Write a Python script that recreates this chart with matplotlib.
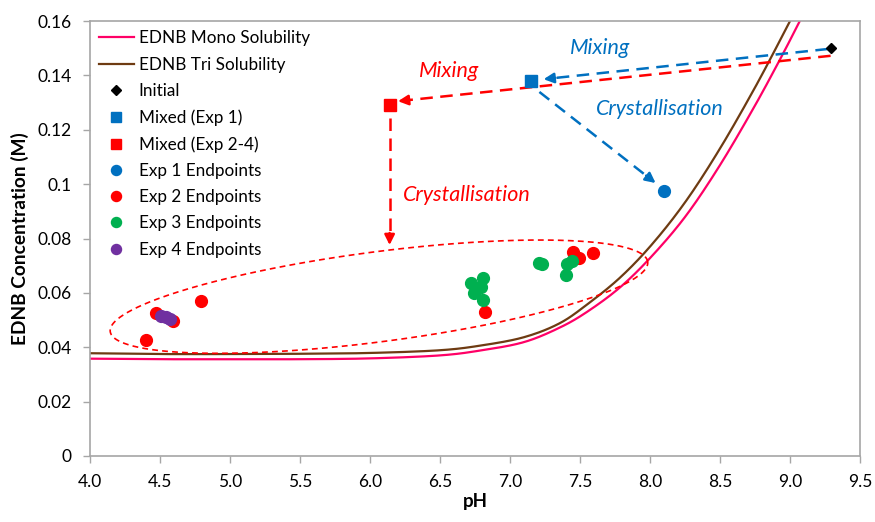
"""EDNB solubility vs pH with mixing / crystallisation pathways."""
import matplotlib

matplotlib.use("Agg")
import matplotlib.pyplot as plt
import numpy as np

plt.rcParams["font.family"] = ["Lato", "DejaVu Sans"]

# solubility curves
mono_ph = [4.0, 4.5, 5.0, 5.5, 6.0, 6.5, 6.8, 7.1, 7.35, 7.55, 7.79, 8.02, 8.26, 8.50, 8.74, 8.93, 9.07, 9.12]
mono_conc = [0.0358, 0.0356, 0.0356, 0.0356, 0.0359, 0.0370, 0.0389, 0.0419, 0.0471, 0.0530, 0.0622,
             0.0739, 0.0886, 0.1070, 0.1280, 0.1460, 0.1600, 0.1653]
tri_ph = [4.0, 4.5, 5.0, 5.5, 6.0, 6.5, 6.8, 7.1, 7.35, 7.55, 7.79, 8.02, 8.26, 8.50, 8.74, 8.93, 9.07]
tri_conc = [0.0378, 0.0375, 0.0375, 0.0376, 0.0379, 0.0389, 0.0407, 0.0437, 0.0487, 0.0557, 0.0658,
            0.0782, 0.0940, 0.1131, 0.1346, 0.1530, 0.1670]

initial_ph, initial_conc = [9.29], [0.150]
mixed1_ph, mixed1_conc = [7.15], [0.138]
mixed24_ph, mixed24_conc = [6.14], [0.129]

exp1_ph, exp1_conc = [8.10], [0.0975]
exp2_ph = [4.40, 4.47, 4.59, 4.79, 6.82, 7.45, 7.49, 7.59]
exp2_conc = [0.0427, 0.0526, 0.0497, 0.0570, 0.0530, 0.0750, 0.0728, 0.0745]
exp3_ph = [6.72, 6.74, 6.81, 6.79, 6.81, 6.76, 7.21, 7.23, 7.41, 7.44, 7.40]
exp3_conc = [0.0636, 0.0600, 0.0655, 0.0622, 0.0574, 0.0610, 0.0710, 0.0706, 0.0706, 0.0716, 0.0666]
exp4_ph = [4.51, 4.54, 4.57]
exp4_conc = [0.0516, 0.0510, 0.0503]

x_ticks = [4.0, 4.5, 5.0, 5.5, 6.0, 6.5, 7.0, 7.5, 8.0, 8.5, 9.0, 9.5]
y_ticks = [0, 0.02, 0.04, 0.06, 0.08, 0.10, 0.12, 0.14, 0.16]
y_tick_labels = ["0", "0.02", "0.04", "0.06", "0.08", "0.1", "0.12", "0.14", "0.16"]

PINK = "#FF0066"
BROWN = "#6E3B12"
BLUE = "#0070C0"
RED = "#FF0000"
GREEN = "#00B050"
PURPLE = "#7030A0"
GREY = "#A6A6A6"


def smooth_line(xs, ys, steps=20):
    """Catmull-Rom pass through the read points, like a spreadsheet 'smoothed line'."""
    p = np.column_stack([xs, ys]).astype(float)
    p = np.vstack([2 * p[0] - p[1], p, 2 * p[-1] - p[-2]])
    out = []
    t = np.linspace(0, 1, steps, endpoint=False)[:, None]
    for i in range(1, len(p) - 2):
        p0, p1, p2, p3 = p[i - 1], p[i], p[i + 1], p[i + 2]
        seg = 0.5 * (2 * p1 + (-p0 + p2) * t + (2 * p0 - 5 * p1 + 4 * p2 - p3) * t ** 2
                     + (-p0 + 3 * p1 - 3 * p2 + p3) * t ** 3)
        out.append(seg)
    out.append(p[-2][None, :])
    out = np.vstack(out)
    return out[:, 0], out[:, 1]


def dashed_arrow(ax, start, end, color, lw=1.8):
    """Dashed shaft plus a solid arrow head at the end."""
    sx, sy = ax.transData.transform(start)
    ex, ey = ax.transData.transform(end)
    length = np.hypot(ex - sx, ey - sy)
    back = 12.0 / length
    bx = sx + (ex - sx) * (1 - back)
    by = sy + (ey - sy) * (1 - back)
    base = ax.transData.inverted().transform((bx, by))
    ax.plot([start[0], base[0]], [start[1], base[1]], color=color, lw=lw,
            dashes=[5, 3], zorder=3)
    ax.annotate("", xy=end, xytext=tuple(base),
                arrowprops=dict(arrowstyle="-|>,head_length=0.6,head_width=0.3",
                                color=color, lw=lw, shrinkA=0, shrinkB=0),
                zorder=3)


def dashed_ellipse(ax, center, a_px, b_px, angle_deg, color):
    cx, cy = ax.transData.transform(center)
    t = np.linspace(0, 2 * np.pi, 400)
    ang = np.radians(angle_deg)
    px = cx + a_px * np.cos(t) * np.cos(ang) - b_px * np.sin(t) * np.sin(ang)
    py = cy + a_px * np.cos(t) * np.sin(ang) + b_px * np.sin(t) * np.cos(ang)
    pts = ax.transData.inverted().transform(np.column_stack([px, py]))
    ax.plot(pts[:, 0], pts[:, 1], color=color, lw=1.2, dashes=[3.5, 2.5], zorder=2)


fig = plt.figure(figsize=(8.75, 5.22), dpi=100)
ax = fig.add_axes([90 / 875, 1 - 456 / 522, 770 / 875, 435 / 522])
ax.set_xlim(4.0, 9.5)
ax.set_ylim(0, 0.16)

ax.plot(*smooth_line(mono_ph, mono_conc), color=PINK, lw=1.6, label="EDNB Mono Solubility", zorder=2)
ax.plot(*smooth_line(tri_ph, tri_conc), color=BROWN, lw=1.6, label="EDNB Tri Solubility", zorder=2)
ax.plot(initial_ph, initial_conc, "D", color="black", ms=5.5, ls="none", label="Initial", zorder=5)
ax.plot(mixed1_ph, mixed1_conc, "s", color=BLUE, ms=8, ls="none", label="Mixed (Exp 1)", zorder=5)
ax.plot(mixed24_ph, mixed24_conc, "s", color=RED, ms=8, ls="none", label="Mixed (Exp 2-4)", zorder=5)
ax.plot(exp1_ph, exp1_conc, "o", color=BLUE, ms=8.5, ls="none", label="Exp 1 Endpoints", zorder=5)
ax.plot(exp2_ph, exp2_conc, "o", color=RED, ms=8.5, ls="none", label="Exp 2 Endpoints", zorder=5)
ax.plot(exp3_ph, exp3_conc, "o", color=GREEN, ms=8.5, ls="none", label="Exp 3 Endpoints", zorder=5)
ax.plot(exp4_ph, exp4_conc, "o", color=PURPLE, ms=8.5, ls="none", label="Exp 4 Endpoints", zorder=5)

# pathways
dashed_arrow(ax, (9.27, 0.1497), (7.24, 0.1386), BLUE)
dashed_arrow(ax, (9.29, 0.1472), (6.20, 0.1305), RED)
dashed_arrow(ax, (7.21, 0.1339), (8.04, 0.1004), BLUE)
dashed_arrow(ax, (6.14, 0.1245), (6.14, 0.0776), RED)
dashed_ellipse(ax, (6.064, 0.0586), 271, 45, 7.4, RED)

txt = dict(style="italic", fontsize=15.5, ha="center", va="center")
ax.text(6.564, 0.1416, "Mixing", color=RED, **txt)
ax.text(7.64, 0.1500, "Mixing", color=BLUE, **txt)
ax.text(8.07, 0.1276, "Crystallisation", color=BLUE, **txt)
ax.text(6.69, 0.0960, "Crystallisation", color=RED, **txt)

ax.set_xticks(x_ticks)
ax.set_xticklabels([f"{v:.1f}" for v in x_ticks])
ax.set_yticks(y_ticks)
ax.set_yticklabels(y_tick_labels)
ax.tick_params(direction="out", length=5, width=1, color=GREY, labelsize=12.5)
ax.tick_params(axis="x", pad=8)
ax.tick_params(axis="y", pad=8)
for spine in ax.spines.values():
    spine.set_color(GREY)
    spine.set_linewidth(1.2)

ax.set_xlabel("pH", fontsize=13.5, fontweight="bold", labelpad=2)
ax.set_ylabel("EDNB Concentration (M)", fontsize=13.8, fontweight="bold", labelpad=6)

ax.legend(loc="upper left", frameon=False, fontsize=12.3, handlelength=2.0,
          handletextpad=0.3, labelspacing=0.6, borderaxespad=0.25,
          borderpad=0.3, markerscale=0.85)

fig.savefig("out.png", dpi=100)
